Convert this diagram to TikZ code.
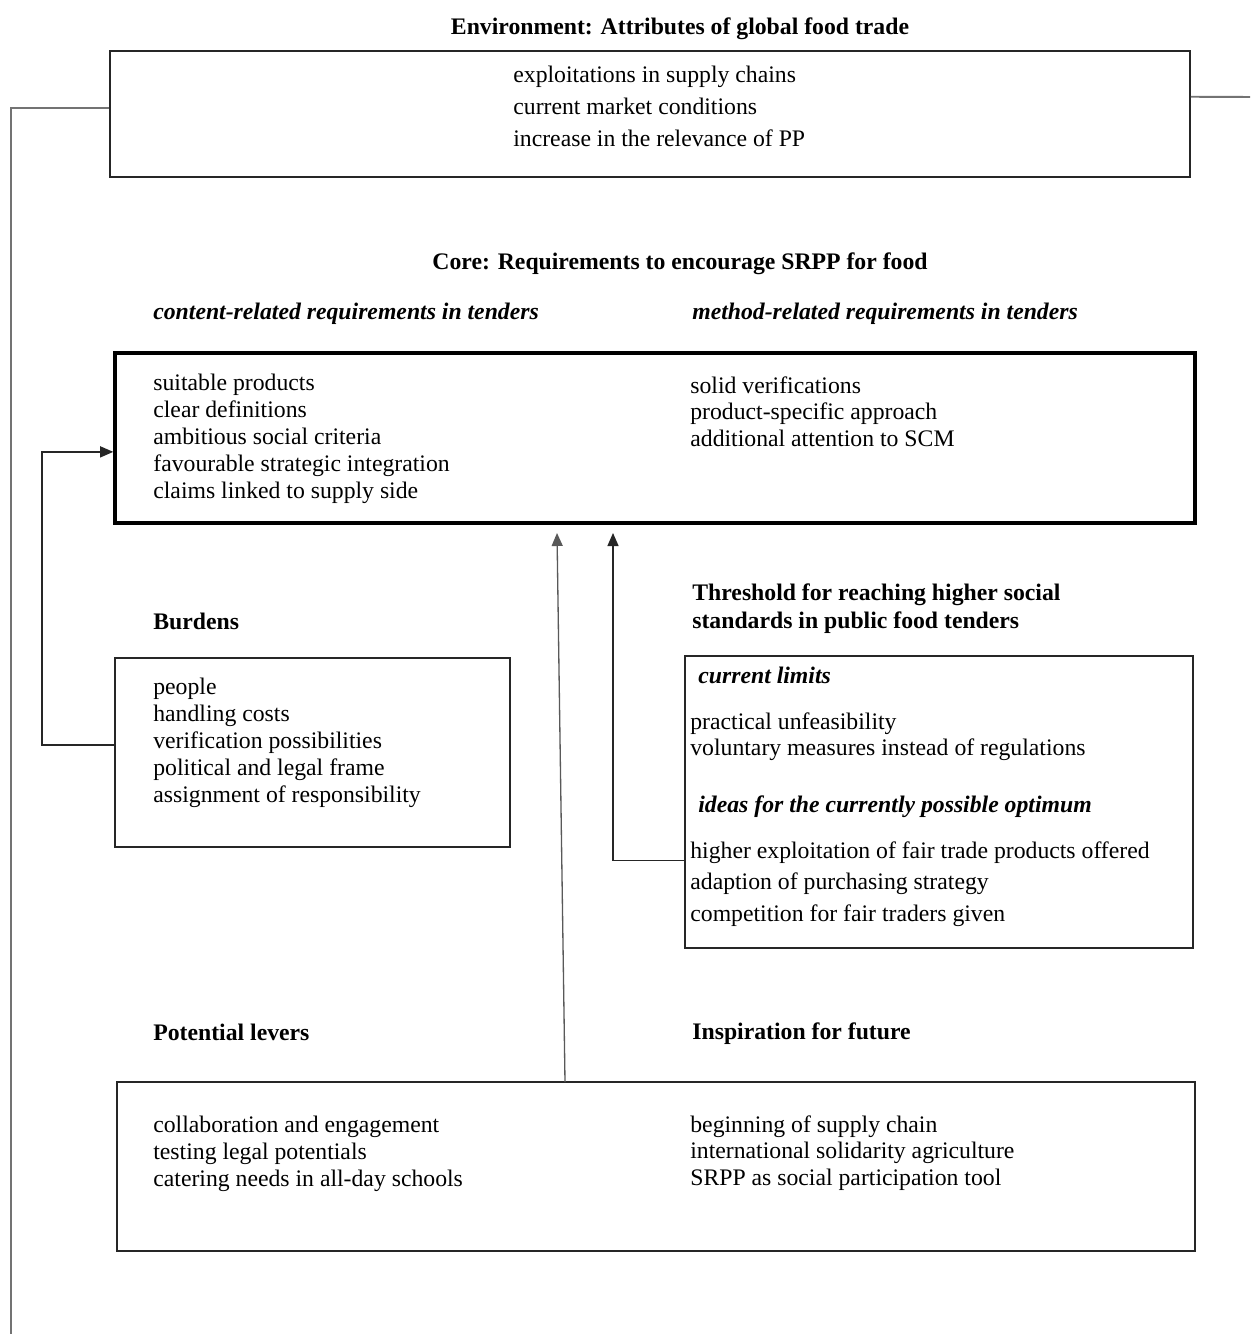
\documentclass[tikz,border=0pt]{standalone}
\usepackage{fontspec}
\setmainfont{Liberation Serif}
\usepackage{tikz}
\usetikzlibrary{calc,positioning,fit,arrows.meta}

\tikzset{
  box/.style={draw=black!85, line width=1pt, inner sep=0pt},
  corebox/.style={draw=black, line width=2pt, inner sep=0pt},
  txt/.style={align=left, inner sep=0pt, anchor=north west,
              font=\fontsize{13.5}{15.3}\selectfont},
  head/.style={inner sep=0pt, font=\fontsize{13.5}{15.3}\selectfont\bfseries},
  sub/.style={inner sep=0pt, anchor=west,
              font=\fontsize{13.5}{15.3}\selectfont\bfseries\itshape},
  arr/.style={draw=black!85, line width=0.75pt,
              -{Triangle[length=2.6mm,width=2.2mm]}},
  feed/.style={draw=black!55, line width=1.1pt}
}

\begin{document}
\begin{tikzpicture}[x=0.02cm, y=-0.02cm]
  \useasboundingbox (0,0) rectangle (1250,1334);

  % environment
  \node[head] (envH) at (680,29) {Environment: Attributes of global food trade};
  \node[box, fit={(110,51) (1190,177)}] (env) {};
  \node[txt, align=left, font=\fontsize{13.5}{18.1}\selectfont] (envT) at (513,66)
    {exploitations in supply chains\\current market conditions\\increase in the relevance of PP};

  % core
  \node[head] (coreH) at (680,264) {Core: Requirements to encourage SRPP for food};
  \node[sub] (coreSL) at (153,314) {content-related requirements in tenders};
  \node[sub] (coreSR) at (692,314) {method-related requirements in tenders};
  \node[corebox, fit={(115,353) (1195,523)}] (core) {};
  \node[txt] (coreL) at (153,374)
    {suitable products\\clear definitions\\ambitious social criteria\\favourable strategic integration\\claims linked to supply side};
  \node[txt] (coreR) at (690,376)
    {solid verifications\\product-specific approach\\additional attention to SCM};

  % burdens
  \node[head, anchor=west] (burdH) at (153,621) {Burdens};
  \node[box, fit={(115,658) (510,847)}] (burd) {};
  \node[txt] (burdT) at (153,678)
    {people\\handling costs\\verification possibilities\\political and legal frame\\assignment of responsibility};

  % threshold
  \node[head, anchor=north west, align=left, font=\fontsize{13.5}{16}\selectfont\bfseries] (thrH) at (692,583)
    {Threshold for reaching higher social\\standards in public food tenders};
  \node[box, fit={(685,656) (1193,948)}] (thr) {};
  \node[sub] (thrS1) at (698,675) {current limits};
  \node[txt] (thrT1) at (690,712)
    {practical unfeasibility\\voluntary measures instead of regulations};
  \node[sub] (thrS2) at (698,807) {ideas for the currently possible optimum};
  \node[txt, font=\fontsize{13.5}{18.1}\selectfont] (thrT2) at (690,841)
    {higher exploitation of fair trade products offered\\adaption of purchasing strategy\\competition for fair traders given};

  % levers and inspiration
  \node[head, anchor=west] (levH) at (153,1032) {Potential levers};
  \node[head, anchor=west] (insH) at (692,1034) {Inspiration for future};
  \node[box, fit={(117,1082) (1195,1251)}] (lev) {};
  \node[txt] (levT) at (153,1116)
    {collaboration and engagement\\testing legal potentials\\catering needs in all-day schools};
  \node[txt] (insT) at (690,1115)
    {beginning of supply chain\\international solidarity agriculture\\SRPP as social participation tool};

  % connectors
  \coordinate (farL) at (11,1334);
  \coordinate (farR) at (1250,97);
  \coordinate (levTop) at (565,1082);
  \coordinate (coreB1) at (557,533);
  \coordinate (coreB2) at (613,533);
  \draw[feed] ($(env.north west)!0.45!(env.south west)$) -| (farL);
  \draw[feed] ($(env.north east)!0.365!(env.south east)$) -- (farR);
  \draw[arr] ($(burd.north west)!0.46!(burd.south west)$) -- ++(-72,0)
    |- ($(core.north west)!0.58!(core.south west)$);
  \draw[arr, draw=black!65] (levTop) -- (coreB1);
  \draw[arr] ($(thr.north west)!0.70!(thr.south west)$) -| (coreB2);
\end{tikzpicture}
\end{document}
